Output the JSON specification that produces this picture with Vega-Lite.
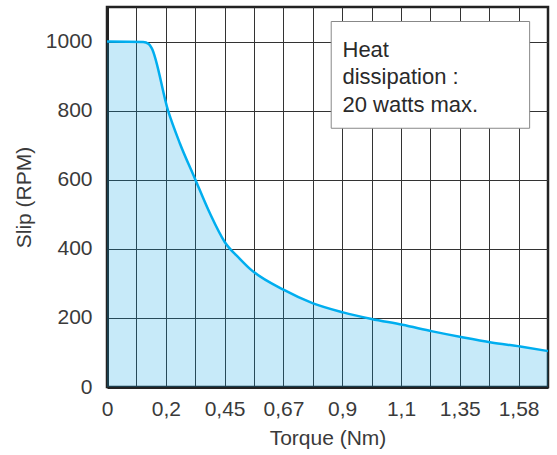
{
  "$schema": "https://vega.github.io/schema/vega-lite/v6.json",
  "width": 441,
  "height": 380,
  "autosize": {"type": "none"},
  "padding": {"left": 107, "top": 7, "right": 9, "bottom": 68},
  "background": "white",
  "config": {
    "view": {"stroke": "#222", "strokeWidth": 2.5},
    "font": "Liberation Sans"
  },
  "data": {
    "values": [
      {"torque": 0, "slip": 1000},
      {"torque": 0.123, "slip": 999},
      {"torque": 0.142, "slip": 993},
      {"torque": 0.152, "slip": 981},
      {"torque": 0.21, "slip": 799},
      {"torque": 0.26, "slip": 705},
      {"torque": 0.324, "slip": 603},
      {"torque": 0.388, "slip": 502},
      {"torque": 0.451, "slip": 419},
      {"torque": 0.507, "slip": 371},
      {"torque": 0.545, "slip": 342},
      {"torque": 0.672, "slip": 281},
      {"torque": 0.786, "slip": 242},
      {"torque": 0.903, "slip": 216},
      {"torque": 1.0, "slip": 197},
      {"torque": 1.106, "slip": 180},
      {"torque": 1.234, "slip": 161},
      {"torque": 1.36, "slip": 144},
      {"torque": 1.473, "slip": 129},
      {"torque": 1.587, "slip": 117},
      {"torque": 1.7, "slip": 104}
    ]
  },
  "layer": [
    {
      "mark": {"type": "area", "color": "#009FE3", "opacity": 0.22, "interpolate": "monotone"},
      "encoding": {
        "x": {
          "field": "torque",
          "type": "quantitative",
          "scale": {
            "domain": [0, 0.1, 0.2, 0.325, 0.45, 0.56, 0.67, 0.785, 0.9, 1.0, 1.1, 1.225, 1.35, 1.465, 1.58, 1.7],
            "range": [0, {"expr": "width*1/15"}, {"expr": "width*2/15"}, {"expr": "width*3/15"}, {"expr": "width*4/15"}, {"expr": "width*5/15"}, {"expr": "width*6/15"}, {"expr": "width*7/15"}, {"expr": "width*8/15"}, {"expr": "width*9/15"}, {"expr": "width*10/15"}, {"expr": "width*11/15"}, {"expr": "width*12/15"}, {"expr": "width*13/15"}, {"expr": "width*14/15"}, {"expr": "width"}],
            "nice": false,
            "zero": false
          },
          "axis": {
            "values": [0, 0.1, 0.2, 0.325, 0.45, 0.56, 0.67, 0.785, 0.9, 1.0, 1.1, 1.225, 1.35, 1.465, 1.58],
            "tickCount": 30,
            "labelExpr": "indexof([0, 0.2, 0.45, 0.67, 0.9, 1.1, 1.35, 1.58], datum.value) >= 0 ? replace(toString(datum.value), '.', ',') : ''",
            "grid": true,
            "gridColor": "#333",
            "gridOpacity": 1,
            "gridWidth": 1,
            "ticks": false,
            "domain": true,
            "domainColor": "#222",
            "domainWidth": 3,
            "labelFontSize": 21,
            "labelColor": "#3a3a3a",
            "labelPadding": 11,
            "labelOverlap": false,
            "labelFlush": false,
            "title": "Torque (Nm)",
            "titleFontSize": 21,
            "titleFontWeight": "normal",
            "titleColor": "#3a3a3a",
            "titlePadding": 8
          }
        },
        "y": {
          "field": "slip",
          "type": "quantitative",
          "scale": {"domain": [0, 1100], "nice": false},
          "axis": {
            "values": [0, 200, 400, 600, 800, 1000],
            "format": "d",
            "grid": true,
            "gridColor": "#333",
            "gridOpacity": 1,
            "gridWidth": 1,
            "ticks": false,
            "domain": true,
            "domainColor": "#222",
            "domainWidth": 3,
            "labelFontSize": 21,
            "labelColor": "#3a3a3a",
            "labelPadding": 15,
            "title": "Slip (RPM)",
            "titleFontSize": 21,
            "titleFontWeight": "normal",
            "titleColor": "#3a3a3a",
            "titlePadding": 11
          }
        }
      }
    },
    {
      "mark": {"type": "line", "color": "#00AEEF", "strokeWidth": 2.5, "interpolate": "monotone"},
      "encoding": {
        "x": {"field": "torque", "type": "quantitative"},
        "y": {"field": "slip", "type": "quantitative"}
      }
    },
    {
      "data": {"values": [{}]},
      "mark": {"type": "rect", "fill": "white", "stroke": "#888", "strokeWidth": 1},
      "encoding": {
        "x": {"datum": 0.857, "type": "quantitative"},
        "x2": {"datum": 1.625},
        "y": {"datum": 1058, "type": "quantitative"},
        "y2": {"datum": 749}
      }
    },
    {
      "data": {"values": [{}]},
      "mark": {"type": "text", "align": "left", "baseline": "alphabetic", "fontSize": 22, "lineHeight": 27.5, "color": "#2a2a2a", "font": "Liberation Sans"},
      "encoding": {
        "x": {"datum": 0.901, "type": "quantitative"},
        "y": {"datum": 956, "type": "quantitative"},
        "text": {"value": ["Heat", "dissipation :", "20 watts max."]}
      }
    }
  ]
}
